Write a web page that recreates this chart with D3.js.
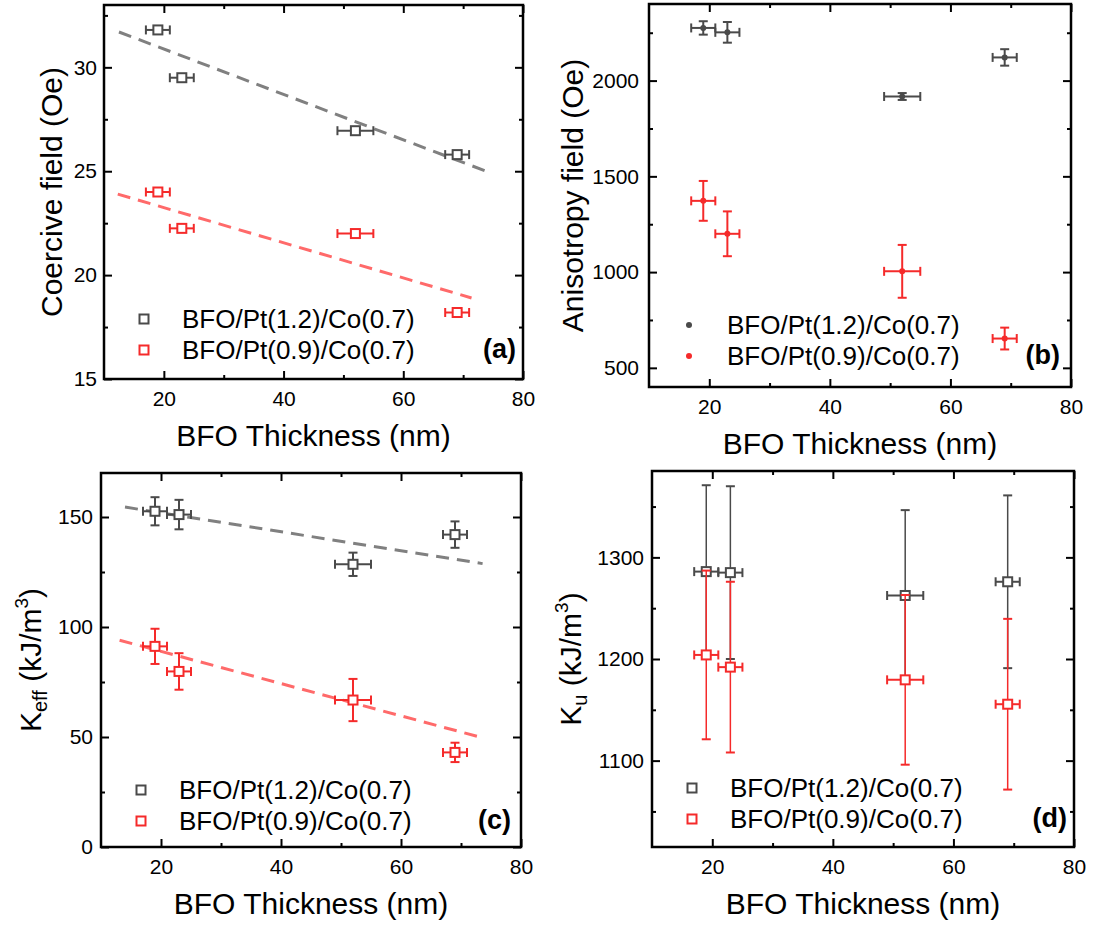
<!DOCTYPE html>
<html>
<head>
<meta charset="utf-8">
<script src="https://cdn.jsdelivr.net/npm/d3@7"></script>
<style>
  body { margin: 0; background: #fff; }
  svg { display: block; }
  text { font-family: Arial, "Liberation Sans", sans-serif; fill: #000; }
</style>
</head>
<body>
<svg id="fig" width="1111" height="931"></svg>
<script>
// BFO thickness (nm) of the four samples and its uncertainty
const thickness = [19, 23, 52, 69];
const thicknessErr = [2, 2, 3, 2];
const seriesNames = ["BFO/Pt(1.2)/Co(0.7)", "BFO/Pt(0.9)/Co(0.7)"];

// (a) coercive field (Oe)
const coercivePt12 = [31.8, 29.5, 26.95, 25.8];
const coercivePt09 = [24.0, 22.25, 22.0, 18.2];
// linear fits: [x start, y start, x end, y end]
const coerciveFitPt12 = [12.5, 31.7, 74.3, 24.95];
const coerciveFitPt09 = [12.3, 23.9, 71.4, 18.9];

// (b) anisotropy field (Oe)
const anisoPt12 = [2275, 2252, 1917, 2121];
const anisoPt12Err = [35, 54, 18, 43];
const anisoPt09 = [1372, 1200, 1004, 653];
const anisoPt09Err = [104, 117, 138, 57];

// (c) effective anisotropy K_eff (kJ/m^3)
const keffPt12 = [152.6, 151.1, 128.5, 142.0];
const keffPt12Err = [6.4, 6.7, 5.3, 6.0];
const keffPt09 = [91.2, 79.8, 66.8, 43.0];
const keffPt09Err = [8.0, 8.3, 9.6, 4.4];
const keffFitPt12 = [14.0, 154.5, 73.6, 128.8];
const keffFitPt09 = [13.1, 94.0, 72.7, 50.3];

// (d) uniaxial anisotropy K_u (kJ/m^3)
const kuPt12 = [1286, 1285, 1262.5, 1276];
const kuPt12Err = [85, 85, 84, 85];
const kuPt09 = [1204, 1192, 1179.5, 1155.5];
const kuPt09Err = [83, 84, 83.5, 84];

// axis ticks
const xTicks = [20, 40, 60, 80];
const xMinor = [30, 50, 70];
const coerciveTicks = [15, 20, 25, 30];
const coerciveMinor = [17.5, 22.5, 27.5, 32.5];
const anisoTicks = [500, 1000, 1500, 2000];
const anisoMinor = [750, 1250, 1750, 2250];
const keffTicks = [0, 50, 100, 150];
const keffMinor = [25, 75, 125];
const kuTicks = [1100, 1200, 1300];
const kuMinor = [1050, 1150, 1250, 1350];

const GRAY = "#4a4a4a";
const GRAY_FIT = "#808080";
const RED = "#f52a2a";
const RED_FIT = "#ff6a6a";
const tickFmt = d3.format("d");

const svg = d3.select("#fig");

function drawPanel(cfg) {
  const b = cfg.box;
  const x = d3.scaleLinear().domain([10, 80]).range([b.left, b.right]);
  const y = d3.scaleLinear().domain(cfg.yDomain).range([b.bottom, b.top]);
  const g = svg.append("g");

  // axes with inward ticks on all four sides
  const axes = [
    [d3.axisBottom(x).tickValues(xTicks).tickFormat(tickFmt).tickPadding(12), `translate(0,${b.bottom})`],
    [d3.axisTop(x).tickValues(xTicks).tickFormat(""), `translate(0,${b.top})`],
    [d3.axisLeft(y).tickValues(cfg.yTicks).tickFormat(tickFmt).tickPadding(cfg.yPad), `translate(${b.left},0)`],
    [d3.axisRight(y).tickValues(cfg.yTicks).tickFormat(""), `translate(${b.right},0)`]
  ];
  const minors = [
    [d3.axisBottom(x).tickValues(xMinor), `translate(0,${b.bottom})`],
    [d3.axisTop(x).tickValues(xMinor), `translate(0,${b.top})`],
    [d3.axisLeft(y).tickValues(cfg.yMinor), `translate(${b.left},0)`],
    [d3.axisRight(y).tickValues(cfg.yMinor), `translate(${b.right},0)`]
  ];
  minors.forEach(([ax, tr]) => {
    const a = g.append("g").attr("transform", tr)
      .call(ax.tickSize(-4).tickFormat(""));
    a.select(".domain").remove();
    a.selectAll("line").attr("stroke", "#000").attr("stroke-width", 2);
  });
  axes.forEach(([ax, tr]) => {
    const a = g.append("g").attr("transform", tr).call(ax.tickSize(-8));
    a.select(".domain").remove();
    a.selectAll("line").attr("stroke", "#000").attr("stroke-width", 2);
    a.selectAll("text").attr("font-size", 21)
      .attr("font-family", 'Arial, "Liberation Sans", sans-serif').attr("fill", "#000");
  });

  // fit lines
  (cfg.fits || []).forEach(f => {
    g.append("line")
      .attr("x1", x(f.p[0])).attr("y1", y(f.p[1]))
      .attr("x2", x(f.p[2])).attr("y2", y(f.p[3]))
      .attr("stroke", f.color).attr("stroke-width", 3)
      .attr("stroke-dasharray", "13 8");
  });

  // data series
  cfg.series.forEach(s => {
    const sg = g.append("g").attr("stroke", s.color).attr("fill", "none");
    const cap = 4.5;
    thickness.forEach((t, i) => {
      const cx = x(t), cy = y(s.values[i]);
      // horizontal error bar
      const xl = x(t - thicknessErr[i]), xr = x(t + thicknessErr[i]);
      sg.append("line").attr("x1", xl).attr("x2", xr).attr("y1", cy).attr("y2", cy)
        .attr("stroke-width", 2);
      sg.append("line").attr("x1", xl).attr("x2", xl).attr("y1", cy - cap).attr("y2", cy + cap)
        .attr("stroke-width", 2);
      sg.append("line").attr("x1", xr).attr("x2", xr).attr("y1", cy - cap).attr("y2", cy + cap)
        .attr("stroke-width", 2);
      // vertical error bar
      if (s.errors) {
        const yt = y(s.values[i] + s.errors[i]), yb = y(s.values[i] - s.errors[i]);
        const w = s.vWidth || 2;
        sg.append("line").attr("x1", cx).attr("x2", cx).attr("y1", yt).attr("y2", yb)
          .attr("stroke-width", w);
        sg.append("line").attr("x1", cx - cap).attr("x2", cx + cap).attr("y1", yt).attr("y2", yt)
          .attr("stroke-width", 2);
        sg.append("line").attr("x1", cx - cap).attr("x2", cx + cap).attr("y1", yb).attr("y2", yb)
          .attr("stroke-width", 2);
      }
      drawMarker(sg, cfg.marker, cx, cy, s.color);
    });
  });

  // frame
  g.append("rect")
    .attr("x", b.left).attr("y", b.top)
    .attr("width", b.right - b.left).attr("height", b.bottom - b.top)
    .attr("fill", "none").attr("stroke", "#000").attr("stroke-width", 2.5);

  // legend
  const row2 = b.bottom - cfg.legendBottom;
  const rows = [row2 - 31, row2];
  cfg.series.forEach((s, i) => {
    drawMarker(g, cfg.marker, b.left + 40, rows[i] - 9, s.color);
    g.append("text").attr("x", b.left + 78).attr("y", rows[i])
      .attr("font-size", 26).text(seriesNames[i]);
  });
  g.append("text").attr("x", b.right - cfg.tagInset).attr("y", row2 - 1)
    .attr("text-anchor", "end").attr("font-size", 27).attr("font-weight", "bold")
    .text(cfg.tag);

  // x title
  g.append("text")
    .attr("x", (b.left + b.right) / 2).attr("y", b.bottom + 67)
    .attr("text-anchor", "middle").attr("font-size", 30)
    .text("BFO Thickness (nm)");

  // y title
  const yt = g.append("text")
    .attr("transform", `translate(${b.left - cfg.yTitleOffset},${(b.top + b.bottom) / 2}) rotate(-90)`)
    .attr("text-anchor", "middle").attr("font-size", 30);
  cfg.yTitle(yt);
}

function drawMarker(sel, kind, cx, cy, color) {
  if (kind === "circle") {
    sel.append("circle").attr("cx", cx).attr("cy", cy).attr("r", 3)
      .attr("fill", color).attr("stroke", "none");
  } else {
    sel.append("rect").attr("x", cx - 4.5).attr("y", cy - 4.5)
      .attr("width", 9).attr("height", 9)
      .attr("fill", "#fff").attr("stroke", color).attr("stroke-width", 2);
  }
}

function unitTitle(symbol, sub) {
  return t => {
    t.append("tspan").text(symbol);
    t.append("tspan").attr("font-size", 20).attr("dy", 6).text(sub);
    t.append("tspan").attr("dy", -6).text(" (kJ/m");
    t.append("tspan").attr("font-size", 19).attr("dy", -13).text("3");
    t.append("tspan").attr("dy", 13).text(")");
  };
}

drawPanel({
  box: { left: 104, right: 523, top: 5, bottom: 379 },
  yDomain: [15, 33], yTicks: coerciveTicks, yMinor: coerciveMinor, yPad: 7,
  marker: "square",
  series: [
    { values: coercivePt12, color: GRAY },
    { values: coercivePt09, color: RED }
  ],
  fits: [
    { p: coerciveFitPt12, color: GRAY_FIT },
    { p: coerciveFitPt09, color: RED_FIT }
  ],
  legendBottom: 20, tag: "(a)", tagInset: 7, yTitleOffset: 42,
  yTitle: t => t.text("Coercive field (Oe)")
});

drawPanel({
  box: { left: 649, right: 1071, top: 4, bottom: 387 },
  yDomain: [400, 2400], yTicks: anisoTicks, yMinor: anisoMinor, yPad: 10,
  marker: "circle",
  series: [
    { values: anisoPt12, errors: anisoPt12Err, color: GRAY },
    { values: anisoPt09, errors: anisoPt09Err, color: RED }
  ],
  legendBottom: 22, tag: "(b)", tagInset: 11, yTitleOffset: 66,
  yTitle: t => t.text("Anisotropy field (Oe)")
});

drawPanel({
  box: { left: 101, right: 521, top: 473, bottom: 847 },
  yDomain: [0, 170], yTicks: keffTicks, yMinor: keffMinor, yPad: 8,
  marker: "square",
  series: [
    { values: keffPt12, errors: keffPt12Err, color: GRAY },
    { values: keffPt09, errors: keffPt09Err, color: RED }
  ],
  fits: [
    { p: keffFitPt12, color: GRAY_FIT },
    { p: keffFitPt09, color: RED_FIT }
  ],
  legendBottom: 17, tag: "(c)", tagInset: 10, yTitleOffset: 60,
  yTitle: unitTitle("K", "eff")
});

drawPanel({
  box: { left: 652, right: 1074, top: 471, bottom: 847 },
  yDomain: [1015, 1385], yTicks: kuTicks, yMinor: kuMinor, yPad: 8,
  marker: "square",
  series: [
    { values: kuPt12, errors: kuPt12Err, color: GRAY, vWidth: 1.5 },
    { values: kuPt09, errors: kuPt09Err, color: RED, vWidth: 1.5 }
  ],
  legendBottom: 19, tag: "(d)", tagInset: 7, yTitleOffset: 71,
  yTitle: unitTitle("K", "u")
});
</script>
</body>
</html>
